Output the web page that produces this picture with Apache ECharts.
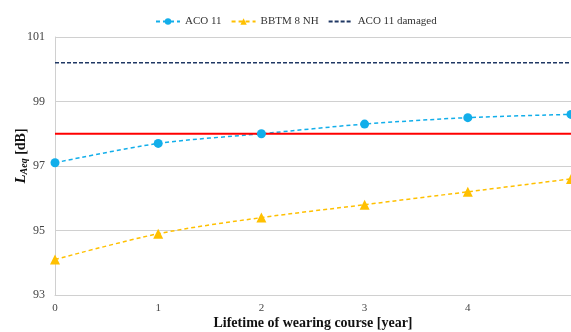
<!DOCTYPE html>
<html>
<head>
<meta charset="utf-8">
<script src="https://cdn.jsdelivr.net/npm/echarts@6/dist/echarts.min.js"></script>
<style>
  html, body { margin: 0; padding: 0; background: #fff; }
  #chart { width: 571px; height: 332px; }
</style>
</head>
<body>
<div id="chart"></div>
<script>
// Lifetime of the wearing course in years
const years = [0, 1, 2, 3, 4, 5];
// Equivalent sound level L_Aeq in dB
const aco11 = [97.1, 97.7, 98.0, 98.3, 98.5, 98.6];
const bbtm8nh = [94.1, 94.9, 95.4, 95.8, 96.2, 96.6];
const aco11Damaged = [100.2, 100.2];
const damagedYears = [0, 5];
const limitLevel = [98.0, 98.0];
const limitYears = [0, 5];
const yTicks = [93, 95, 97, 99, 101];

const pair = (xs, ys) => xs.map((x, i) => [x, ys[i]]);
const font = 'Liberation Serif';

const chart = echarts.init(document.getElementById('chart'));
chart.setOption({
  animation: false,
  textStyle: { fontFamily: font },
  legend: {
    top: 11,
    left: 150,
    itemWidth: 24,
    itemHeight: 8,
    itemGap: 9,
    textStyle: { fontFamily: font, fontSize: 11, color: '#333' },
    data: [
      'ACO 11',
      'BBTM 8 NH',
      { name: 'ACO 11 damaged', itemStyle: { opacity: 0 } }
    ]
  },
  grid: { left: 55, right: 0, top: 37, bottom: 37, outerBoundsMode: 'none' },
  xAxis: {
    type: 'value',
    min: 0, max: 5, interval: 1,
    axisLine: { show: true, lineStyle: { color: '#d0d0d0' } },
    axisTick: { show: false },
    splitLine: { show: false },
    axisLabel: { showMaxLabel: false, fontFamily: font, fontSize: 11, color: '#444', margin: 8 },
    name: 'Lifetime of wearing course [year]',
    nameLocation: 'middle',
    nameMoveOverlap: false,
    nameGap: 21,
    nameTextStyle: { fontFamily: font, fontSize: 14, fontWeight: 'bold', color: '#111' }
  },
  yAxis: {
    type: 'value',
    min: yTicks[0], max: yTicks[yTicks.length - 1], interval: 2,
    axisLine: { show: true, lineStyle: { color: '#d0d0d0' } },
    axisTick: { show: false },
    splitLine: { lineStyle: { color: '#d0d0d0' } },
    axisLabel: { fontFamily: font, fontSize: 12, color: '#444', margin: 10 },
    name: '{l|L}{s|Aeq}{u| [dB]}',
    nameLocation: 'middle',
    nameMoveOverlap: false,
    nameGap: 26,
    nameRotate: 90,
    nameTextStyle: {
      padding: [0, 0, 0, 20],
      rich: {
        l: { fontFamily: font, fontSize: 15, fontWeight: 'bold', fontStyle: 'italic', color: '#111' },
        s: { fontFamily: font, fontSize: 10, fontWeight: 'bold', fontStyle: 'italic', color: '#111', verticalAlign: 'bottom', padding: [6, 0, 0, 0] },
        u: { fontFamily: font, fontSize: 14, fontWeight: 'bold', color: '#111' }
      }
    }
  },
  series: [
    {
      name: 'ACO 11',
      type: 'line',
      smooth: 0.3,
      data: pair(years, aco11),
      symbol: 'circle',
      symbolSize: 9,
      itemStyle: { color: '#12aeea' },
      lineStyle: { color: '#12aeea', width: 1.5, type: [4, 3] }
    },
    {
      name: 'BBTM 8 NH',
      type: 'line',
      smooth: 0.3,
      data: pair(years, bbtm8nh),
      symbol: 'triangle',
      symbolSize: 10,
      itemStyle: { color: '#ffc000' },
      lineStyle: { color: '#ffc000', width: 1.5, type: [4, 3] }
    },
    {
      name: 'ACO 11 damaged',
      type: 'line',
      data: pair(damagedYears, aco11Damaged),
      symbol: 'none',
      itemStyle: { color: '#203864' },
      lineStyle: { color: '#203864', width: 1.5, type: [4, 2] }
    },
    {
      name: 'Limit',
      type: 'line',
      data: pair(limitYears, limitLevel),
      symbol: 'none',
      itemStyle: { color: '#ff0000' },
      lineStyle: { color: '#ff0000', width: 2 }
    }
  ]
});
</script>
</body>
</html>
